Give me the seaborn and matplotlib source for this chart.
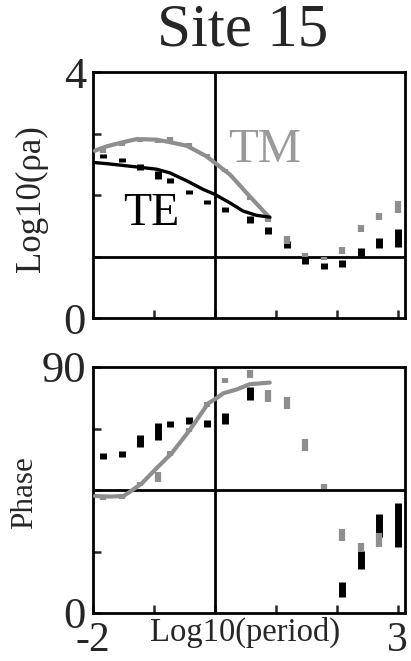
import numpy as np
import pandas as pd
import matplotlib
matplotlib.use("Agg")
import matplotlib.pyplot as plt
import seaborn as sns

# ---------------- data ----------------
log_period = [-1.83, -1.52, -1.23, -0.93, -0.74, -0.43, -0.13, 0.17, 0.57,
              0.87, 1.18, 1.48, 1.79, 2.09, 2.39, 2.69, 3.0]

rho_te = [2.63, 2.57, 2.45, 2.32, 2.24, 2.05, 1.89, 1.77, 1.60,
          1.43, 1.19, 0.94, 0.85, 0.88, 1.08, 1.22, 1.30]
rho_te_err = [0.033, 0.033, 0.049, 0.065, 0.041, 0.033, 0.033, 0.041, 0.057,
              0.057, 0.057, 0.065, 0.049, 0.057, 0.065, 0.081, 0.146]
rho_tm = [2.72, 2.82, 2.89, 2.88, 2.91, 2.82, 2.64, 2.40, 1.95,
          1.60, 1.27, 1.03, 0.96, 1.09, 1.45, 1.65, 1.81]
rho_tm_err = [0.033, 0.025, 0.033, 0.033, 0.041, 0.025, 0.025, 0.025, 0.025,
              0.041, 0.065, 0.033, 0.025, 0.057, 0.057, 0.057, 0.098]

phase_te = [57.4, 58.1, 63.1, 66.3, 69.0, 70.4, 69.2, 71.0, 80.4,
            np.nan, np.nan, np.nan, np.nan, 8.7, 19.4, 31.9, 32.2]
phase_te_err = [1.1, 1.1, 2.2, 3.1, 1.1, 1.3, 1.3, 2.0, 2.4,
                np.nan, np.nan, np.nan, np.nan, 2.7, 3.3, 4.2, 7.9]
phase_tm = [42.0, 42.6, 47.2, 49.9, 58.4, 67.0, 76.4, 85.0, 87.4,
            79.4, 76.9, 61.5, 46.2, 28.5, 24.0, 26.7, np.nan]
phase_tm_err = [0.8, 0.8, 0.8, 1.8, 0.8, 0.8, 0.9, 0.9, 1.6,
                2.2, 2.2, 2.2, 0.9, 2.2, 1.6, 2.7, np.nan]

# model curves
tm_rho_curve_x = [-1.97, -1.78, -1.50, -1.28, -0.96, -0.74, -0.46, -0.14, 0.03, 0.25, 0.57, 0.90]
tm_rho_curve_y = [2.72, 2.79, 2.86, 2.91, 2.90, 2.86, 2.80, 2.63, 2.50, 2.33, 1.98, 1.63]
te_rho_curve_x = [-2.0, -1.78, -1.50, -1.23, -0.96, -0.74, -0.46, -0.19, 0.0, 0.25, 0.46, 0.68, 0.90]
te_rho_curve_y = [2.53, 2.51, 2.48, 2.45, 2.42, 2.36, 2.23, 2.09, 2.01, 1.87, 1.74, 1.67, 1.64]
tm_phase_curve_x = [-1.97, -1.72, -1.50, -1.39, -1.20, -0.96, -0.71, -0.41, -0.11, 0.0, 0.14, 0.36, 0.57, 0.90]
tm_phase_curve_y = [42.8, 42.6, 42.8, 44.4, 47.4, 52.9, 58.4, 67.0, 76.7, 78.2, 80.4, 81.8, 83.7, 84.3]

title = "Site 15"
x_label = "Log10(period)"
rho_label = "Log10(\u03c1a)"
phase_label = "Phase"

# ---------------- style ----------------
sns.set_style("ticks")
plt.rcParams["font.family"] = ["Liberation Serif", "DejaVu Serif"]

GRAY = "#8e8e8e"
BLACK = "#000000"

fig = plt.figure(figsize=(4.11, 6.61), dpi=100)
W, H = 411, 661
ax1 = fig.add_axes([93 / W, 1 - 318 / H, 312 / W, 246 / H])
ax2 = fig.add_axes([93 / W, 1 - 613 / H, 312 / W, 246 / H])

def rects(ax, x, y, e, color, lw):
    x = np.asarray(x, float); y = np.asarray(y, float); e = np.asarray(e, float)
    m = ~np.isnan(y)
    ax.vlines(x[m], y[m] - e[m], y[m] + e[m], colors=color, linewidth=lw,
              capstyle="butt", zorder=4)

# top panel
rects(ax1, log_period, rho_te, rho_te_err, BLACK, 5.0)
rects(ax1, log_period, rho_tm, rho_tm_err, GRAY, 4.5)
sns.lineplot(x=tm_rho_curve_x, y=tm_rho_curve_y, sort=False, estimator=None,
             color=GRAY, linewidth=3.0, ax=ax1, zorder=5)
sns.lineplot(x=te_rho_curve_x, y=te_rho_curve_y, sort=False, estimator=None,
             color=BLACK, linewidth=2.4, ax=ax1, zorder=5)
ax1.axhline(1.0, color="black", linewidth=2.0, zorder=3)
ax1.axvline(0.0, color="black", linewidth=2.0, zorder=3)
ax1.text(0.82, 2.73, "TM", color="#9a9a9a", fontsize=35, ha="center", va="center")
ax1.text(-1.04, 1.70, "TE", color="black", fontsize=33, ha="center", va="center")

# bottom panel
rects(ax2, log_period, phase_te, phase_te_err, BLACK, 5.0)
rects(ax2, log_period, phase_tm, phase_tm_err, GRAY, 4.5)
sns.lineplot(x=tm_phase_curve_x, y=tm_phase_curve_y, sort=False, estimator=None,
             color=GRAY, linewidth=3.0, ax=ax2, zorder=5)
ax2.axhline(45.0, color="black", linewidth=2.0, zorder=3)
ax2.axvline(0.0, color="black", linewidth=2.0, zorder=3)

for ax in (ax1, ax2):
    ax.set_xlim(-2.0, 3.12)
    ax.set_xticks([-2, -1, 0, 1, 2, 3])
    for s in ax.spines.values():
        s.set_linewidth(2.0)
        s.set_color("black")
    ax.tick_params(direction="in", length=6, width=1.8, labelsize=32, pad=5)
    ax.set_xlabel("")
    ax.set_ylabel("")

ax1.set_ylim(0, 4)
ax1.set_yticks([0, 1, 2, 3, 4])
ax1.set_yticklabels(["0", "", "", "", "4"])
ax1.set_xticklabels([])

ax2.set_ylim(0, 90)
ax2.set_yticks([0, 22.5, 45, 67.5, 90])
ax2.set_yticklabels(["0", "", "", "", "90"])
ax2.set_xticklabels(["-2", "", "", "", "", "3"])
ax2.tick_params(axis="x", pad=6, labelsize=30)

fig.text(243 / W, 1 - 45 / H, title, fontsize=44, ha="center", va="baseline")
fig.text(245 / W, 1 - 641 / H, x_label, fontsize=23.5, ha="center", va="baseline")
fig.text(31 / W, 1 - 199 / H, rho_label, fontsize=25, rotation=90, ha="center", va="center")
fig.text(25 / W, 1 - 493 / H, phase_label, fontsize=22.5, rotation=90, ha="center", va="center")

fig.savefig("out.png", dpi=100, facecolor="white")
